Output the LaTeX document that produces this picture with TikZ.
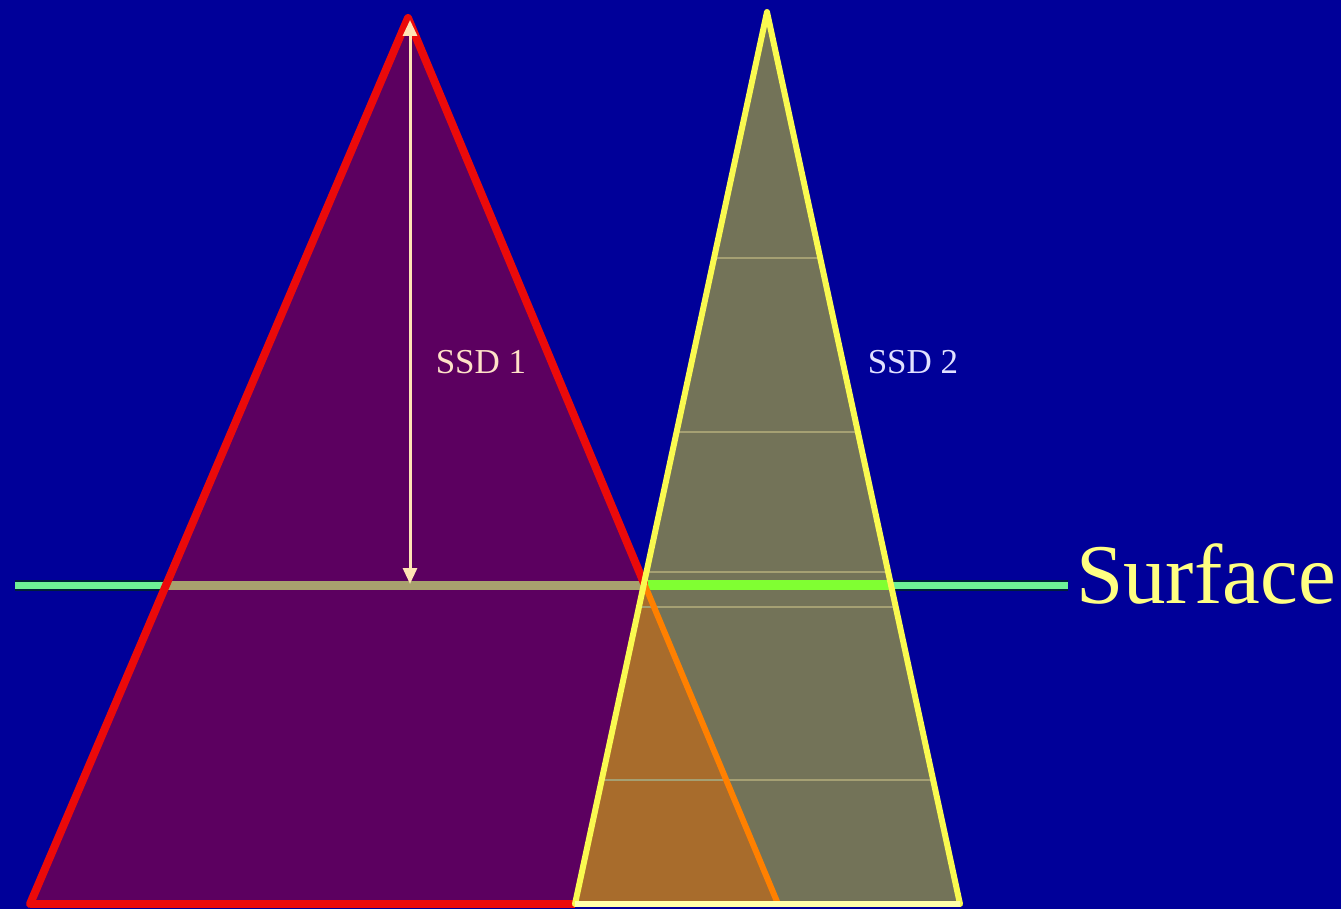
\documentclass[tikz,border=0pt]{standalone}
\usepackage{fontspec}
\setmainfont{Liberation Serif}
\usetikzlibrary{arrows.meta}
\definecolor{bgblue}{RGB}{0,0,153}
\definecolor{redfill}{RGB}{92,0,96}
\definecolor{rededge}{RGB}{235,10,10}
\definecolor{yelfill}{RGB}{115,115,88}
\definecolor{yeledge}{RGB}{250,250,80}
\definecolor{overlap}{RGB}{168,108,44}
\definecolor{orangeedge}{RGB}{255,128,0}
\definecolor{mint}{RGB}{110,240,150}
\definecolor{brightgreen}{RGB}{128,255,50}
\definecolor{olivegreen}{RGB}{168,160,110}
\definecolor{faint}{RGB}{165,160,115}
\definecolor{arrowc}{RGB}{255,228,180}
\definecolor{ssdone}{RGB}{255,225,200}
\definecolor{ssdtwo}{RGB}{225,225,255}
\definecolor{surf}{RGB}{255,255,130}
\tikzset{
  rededgestyle/.style={draw=rededge,line width=8pt,line cap=round,line join=round},
  yeledgestyle/.style={draw=yeledge,line width=6pt,line cap=round,line join=round},
  faintline/.style={draw=faint,line width=2pt},
  lbl/.style={font=\fontsize{35}{40}\selectfont,inner sep=0pt}
}
\begin{document}
\begin{tikzpicture}[x=1pt,y=-1pt]
\fill[bgblue] (0,0) rectangle (1341,909);
\useasboundingbox (0,0) rectangle (1341,909);
% vertices
\coordinate (RA) at (408,18);
\coordinate (RL) at (30,904);
\coordinate (RR) at (778,904);
\coordinate (YA) at (767,12);
\coordinate (YL) at (575,904);
\coordinate (YR) at (960,904);
\coordinate (I) at (intersection of RA--RR and YA--YL);
\coordinate (GL) at (15,585);
\coordinate (GR) at (1068,585);
\coordinate (GRL) at (166,585);
\coordinate (GRR) at (644,585);
\coordinate (GYL) at (644,585);
\coordinate (GYR) at (891,585);
% surface line
\draw[line width=11pt,draw={rgb,255:red,0;green,30;blue,60}] (GL) -- (GR);
\draw[line width=7pt,draw=mint] (GL) -- (GR);
% red triangle fill
\fill[redfill] (RA) -- (RL) -- (RR) -- cycle;
\draw[line width=9pt,draw=olivegreen] (GRL) -- (GRR);
% yellow triangle fill
\fill[yelfill] (YA) -- (YL) -- (YR) -- cycle;
\fill[overlap] (I) -- (YL) -- (RR) -- cycle;
\begin{scope}
\clip (YA) -- (YL) -- (YR) -- cycle;
\foreach \yy in {258,432,572,607,780} {
  \draw[faintline] (560,\yy) -- (980,\yy);
}
\end{scope}
\draw[line width=10pt,draw=brightgreen] (GYL) -- (GYR);
% red edges
\draw[rededgestyle] (I) -- (RA) -- (RL);
\draw[draw=orangeedge,line width=6pt] (I) -- (RR);
\draw[draw=rededge,line width=8pt] (RL) -- (YL);
% yellow edges
\draw[yeledgestyle] (YL) -- (YA) -- (YR);
\draw[draw={rgb,255:red,255;green,255;blue,170},line width=6pt] (YL) -- (YR);
% arrow
\coordinate (AT) at (410,20);
\coordinate (AB) at (410,584);
\draw[draw=arrowc,line width=3pt,{Triangle[length=16pt,width=14pt]}-{Triangle[length=16pt,width=14pt]}] (AT) -- (AB);
% labels
\node[lbl,text=ssdone] (ssd1) at (481,362) {SSD 1};
\node[lbl,text=ssdtwo] (ssd2) at (913,362) {SSD 2};
\node[font=\fontsize{85}{92}\selectfont,text=surf,inner sep=0pt,anchor=west] (surface) at (1076,574) {Surface};
\end{tikzpicture}
\end{document}
